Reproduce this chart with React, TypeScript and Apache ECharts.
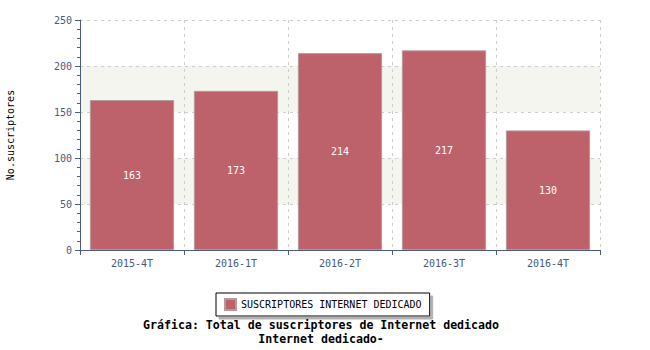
import React, { useEffect, useRef } from "react";
import * as echarts from "echarts";

const categories = ["2015-4T", "2016-1T", "2016-2T", "2016-3T", "2016-4T"];
const values = [163, 173, 214, 217, 130];
const seriesName = "SUSCRIPTORES INTERNET DEDICADO";
const yAxisName = "No.suscriptores";
const titleLines = ["Gráfica: Total de suscriptores de Internet dedicado", "Internet dedicado-"];

const FONT = "'DejaVu Sans Mono', monospace";
const AXIS = "#4a5a80";

export default function App() {
  const ref = useRef<HTMLDivElement>(null);
  useEffect(() => {
    const chart = echarts.init(ref.current!, null, { renderer: "svg" });
    chart.setOption({
      animation: false,
      textStyle: { fontFamily: FONT },
      grid: { left: 80, right: 50, top: 20, bottom: 100, outerBoundsMode: "none", containLabel: false },
      title: {
        text: titleLines.join("\n"),
        left: 316,
        textAlign: "center",
        top: 313,
        textStyle: { fontFamily: FONT, fontSize: 11.6, fontWeight: "bold", color: "#000", lineHeight: 14 },
      },
      legend: {
        data: [seriesName],
        left: 216,
        top: 293,
        orient: "horizontal",
        backgroundColor: "#fff",
        borderColor: "#000",
        borderWidth: 1,
        shadowColor: "#b0b0b0",
        shadowOffsetX: 3,
        shadowOffsetY: 3,
        shadowBlur: 0,
        padding: [5, 8, 5, 8],
        itemWidth: 11,
        itemHeight: 11,
        itemGap: 5,
        icon: "rect",
        textStyle: { fontFamily: FONT, fontSize: 10, color: "#000" },
      },
      xAxis: {
        type: "category",
        data: categories,
        axisLine: { lineStyle: { color: AXIS, width: 1 } },
        axisTick: { show: true, alignWithLabel: false, length: 5, lineStyle: { color: AXIS } },
        axisLabel: { color: AXIS, fontFamily: FONT, fontSize: 10, margin: 8 },
        splitLine: { show: true, lineStyle: { color: "#cccccc", type: [3, 4] } },
      },
      yAxis: {
        type: "value",
        min: 0,
        max: 250,
        interval: 50,
        name: yAxisName,
        nameLocation: "middle",
        nameGap: 65,
        nameTextStyle: { fontFamily: FONT, fontSize: 10, color: "#000" },
        axisLine: { show: true, lineStyle: { color: AXIS, width: 1 } },
        axisTick: { show: true, length: 5, lineStyle: { color: AXIS } },
        minorTick: { show: true, splitNumber: 5, length: 3, lineStyle: { color: AXIS } },
        axisLabel: { color: AXIS, fontFamily: FONT, fontSize: 10, margin: 8 },
        splitLine: { show: true, lineStyle: { color: "#cccccc", type: [3, 4] } },
        splitArea: { show: true, areaStyle: { color: ["rgba(0,0,0,0)", "#f5f5f0"] } },
      },
      series: [
        {
          name: seriesName,
          type: "bar",
          data: values,
          barCategoryGap: "19%",
          itemStyle: { color: "#bd616b", borderColor: "#b39a9d", borderWidth: 1 },
          label: {
            show: true,
            position: "inside",
            color: "#fff",
            fontFamily: FONT,
            fontSize: 10,
          },
        },
      ],
    });
    return () => chart.dispose();
  }, []);
  return <div ref={ref} style={{ width: 650, height: 350, position: "absolute", left: 0, top: 0, background: "#fff" }} />;
}
